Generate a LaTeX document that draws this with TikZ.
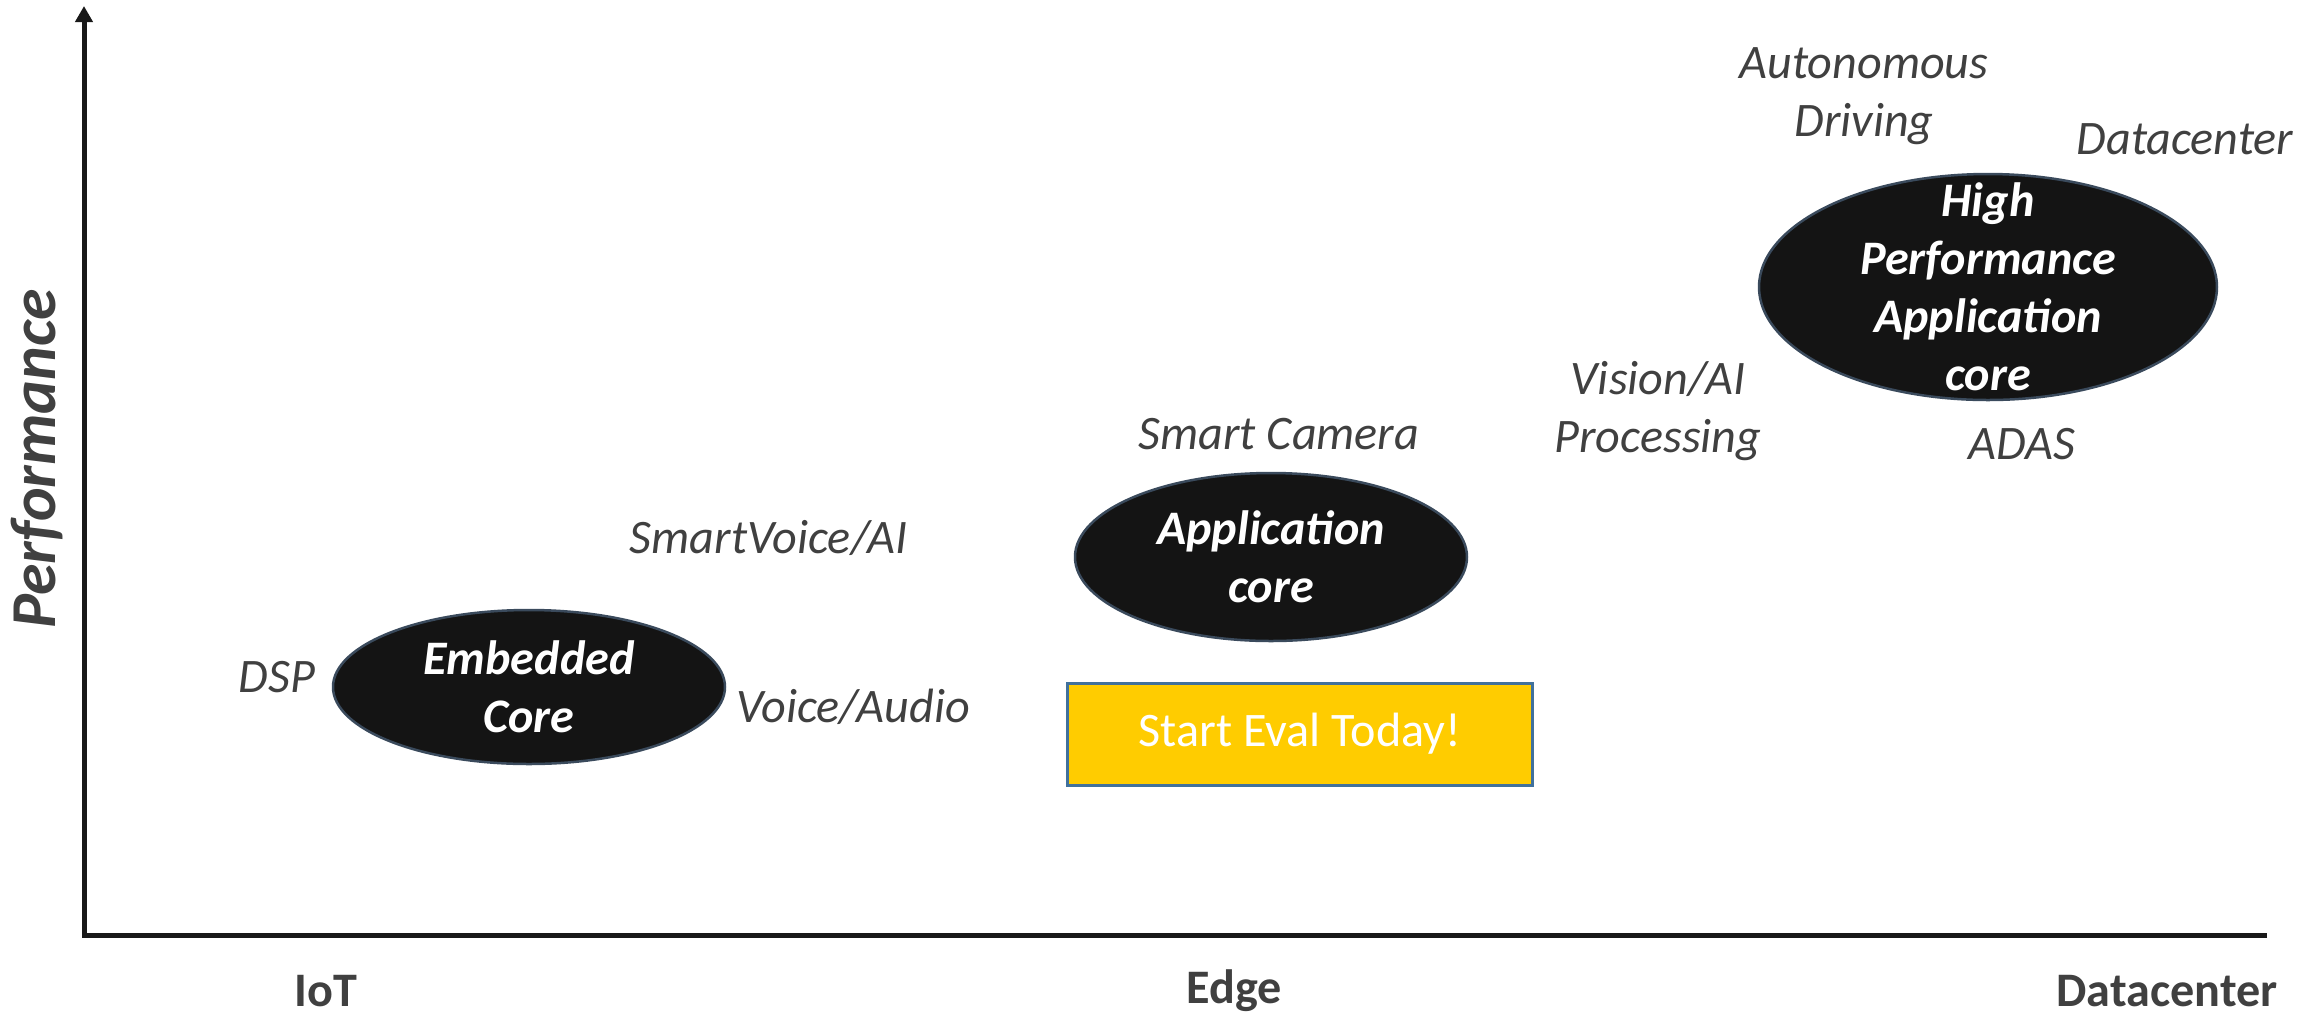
\documentclass[tikz,border=0pt]{standalone}
\usepackage{fontspec}
\setmainfont{Carlito}
\usetikzlibrary{shapes.geometric,arrows.meta,positioning}
\definecolor{labelgray}{HTML}{404040}
\definecolor{coreblack}{HTML}{141414}
\definecolor{coreedge}{HTML}{3A4A5C}
\definecolor{evalyellow}{HTML}{FFCC00}
\definecolor{evalblue}{HTML}{41719C}

\begin{document}
\begin{tikzpicture}[x=0.1mm, y=-0.1mm,
    core/.style={ellipse, draw=coreedge, line width=0.25mm, fill=coreblack, inner sep=0pt},
    coretext/.style={text=white, align=center, font={\fontsize{13.7}{16.5}\selectfont\bfseries\itshape}},
    tag/.style={text=labelgray, align=center, font={\fontsize{13.7}{16.5}\selectfont\itshape}},
    axislabel/.style={text=labelgray, font={\fontsize{13.7}{16.5}\selectfont\bfseries}},
    evalbox/.style={rectangle, draw=evalblue, line width=0.3mm, fill=evalyellow, text=white, minimum width=46.5mm, minimum height=10.2mm, font={\fontsize{13.7}{16.5}\selectfont}},
    axis/.style={line width=0.5mm, draw=black!90}
]
    \useasboundingbox (0,0) rectangle (2323,1017);

    % Achsen
    \coordinate (origin) at (84,935);
    \coordinate (ytop) at (84,6);
    \coordinate (xend) at (2267,935);
    \draw[axis, -{Triangle[width=1.7mm, length=1.6mm]}] (xend) -- (origin) -- (ytop);

    \node[rotate=90, text=labelgray, font={\fontsize{18.2}{20}\selectfont\bfseries\itshape}] (perf) at (37,459) {Performance};

    \node[axislabel] (iot) at (326,991) {IoT};
    \node[axislabel] (edge) at (1234,991) {Edge};
    \node[axislabel] (dc) at (2167,991) {Datacenter};

    % Kerne
    \node[core, minimum width=39.2mm, minimum height=15.4mm] (embcore) at (529,687) {};
    \node[coretext] at (embcore) {Embedded\\Core};

    \node[core, minimum width=39.2mm, minimum height=16.8mm] (appcore) at (1271,557) {};
    \node[coretext] at (appcore) {Application\\core};

    \node[core, minimum width=45.8mm, minimum height=22.6mm] (hpcore) at (1988,287) {};
    \node[coretext] at (hpcore) {High\\Performance\\Application\\core};

    % Anwendungen
    \node[tag] (dsp) at (277,677) {DSP};
    \node[tag] (voice) at (853,707) {Voice/Audio};
    \node[tag] (smartvoice) at (769,538) {SmartVoice/AI};
    \node[tag] (camera) at (1279,434) {Smart Camera};
    \node[tag] (vision) at (1658,411) {Vision/AI\\Processing};
    \node[tag] (adas) at (2022,444) {ADAS};
    \node[tag] (auto) at (1864,96) {Autonomous\\Driving};
    \node[tag] (dctag) at (2185,139) {Datacenter};

    \node[evalbox] (eval) at (1300,734) {Start Eval Today!};
\end{tikzpicture}
\end{document}
